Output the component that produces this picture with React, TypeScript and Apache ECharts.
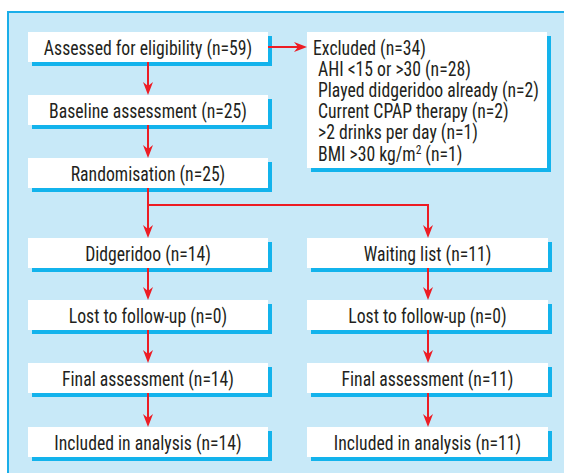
import React, { useEffect, useRef } from "react";
import * as echarts from "echarts";

const mainFlow = ["Assessed for eligibility", "Baseline assessment", "Randomisation"];
const mainCounts = [59, 25, 25];
const armStages = ["Didgeridoo", "Lost to follow-up", "Final assessment", "Included in analysis"];
const armBStages = ["Waiting list", "Lost to follow-up", "Final assessment", "Included in analysis"];
const armACounts = [14, 0, 14, 14];
const armBCounts = [11, 0, 11, 11];
const excludedTotal = 34;
const excludedReasons = [
  "AHI <15 or >30",
  "Played didgeridoo already",
  "Current CPAP therapy",
  ">2 drinks per day",
  "BMI >30 kg/m{sup|2}",
];
const excludedCounts = [28, 2, 2, 1, 1];

const FONT = "'Liberation Sans Narrow', 'Arial Narrow', 'Roboto Condensed', sans-serif";
const RED = "#ed1c24";
const SHADOW = "#13b3ec";
const BG = "#c8e9f8";
const TEXT = "#231f20";
const FS = 20;
const SX = 0.885;

function box(x: number, y: number, w: number, h: number, label: string): any[] {
  return [
    { type: "rect", shape: { x: x + 4, y: y + 4, width: w, height: h }, style: { fill: SHADOW }, z: 1 },
    { type: "rect", shape: { x, y, width: w, height: h }, style: { fill: "#ffffff" }, z: 2 },
    {
      type: "text",
      x: x + w / 2,
      y: y + h / 2 + 1,
      scaleX: SX,
      z: 3,
      style: { text: label, fill: TEXT, font: `${FS}px ${FONT}`, align: "center", verticalAlign: "middle" },
    },
  ];
}

function vArrow(x: number, y1: number, y2: number): any[] {
  return [
    { type: "line", shape: { x1: x, y1, x2: x, y2: y2 - 6 }, style: { stroke: RED, lineWidth: 2 }, z: 4 },
    {
      type: "polygon",
      shape: { points: [[x, y2], [x - 5, y2 - 13], [x, y2 - 9], [x + 5, y2 - 13]] },
      style: { fill: RED },
      z: 4,
    },
  ];
}

function hArrow(x1: number, x2: number, y: number): any[] {
  return [
    { type: "line", shape: { x1, y1: y, x2: x2 - 6, y2: y }, style: { stroke: RED, lineWidth: 2 }, z: 4 },
    {
      type: "polygon",
      shape: { points: [[x2, y], [x2 - 13, y - 5], [x2 - 9, y], [x2 - 13, y + 5]] },
      style: { fill: RED },
      z: 4,
    },
  ];
}

export default function App() {
  const ref = useRef<HTMLDivElement>(null);
  useEffect(() => {
    if (!ref.current) return;
    const chart = echarts.init(ref.current, undefined, { renderer: "svg" });

    const LX = 28, RX = 307, W = 240, H = 30;
    const LC = LX + W / 2, RC = RX + W / 2 + 1;
    const mainTops = [32, 95, 158];
    const armTops = [238, 300, 363, 427];

    const els: any[] = [];
    els.push({ type: "rect", shape: { x: 8, y: 12, width: 600, height: 500 }, style: { fill: BG, stroke: "#1aaee9", lineWidth: 2 }, z: 0 });

    mainFlow.forEach((s, i) => els.push(...box(LX, mainTops[i], W, H, `${s} (n=${mainCounts[i]})`)));
    armStages.forEach((s, i) => els.push(...box(LX, armTops[i], W, H, `${s} (n=${armACounts[i]})`)));
    armBStages.forEach((s, i) => els.push(...box(RX, armTops[i], W + 1, H, `${s} (n=${armBCounts[i]})`)));

    const EX = 307, EY = 32, EW = 240, EH = 136;
    els.push({ type: "rect", shape: { x: EX + 4, y: EY + 4, width: EW, height: EH }, style: { fill: SHADOW }, z: 1 });
    els.push({ type: "rect", shape: { x: EX, y: EY, width: EW, height: EH }, style: { fill: "#ffffff" }, z: 2 });
    els.push({
      type: "text", x: 313, y: 48, scaleX: SX, z: 3,
      style: { text: `Excluded (n=${excludedTotal})`, fill: TEXT, font: `${FS}px ${FONT}`, align: "left", verticalAlign: "middle" },
    });
    excludedReasons.forEach((r, i) => {
      els.push({
        type: "text", x: 318, y: 69 + i * 21.2, scaleX: SX, z: 3,
        style: {
          text: `${r} (n=${excludedCounts[i]})`,
          fill: TEXT,
          font: `${FS}px ${FONT}`,
          align: "left",
          verticalAlign: "middle",
          rich: { sup: { fontSize: 13, fontFamily: FONT, fill: TEXT, padding: [0, 0, 8, 0] } },
        },
      });
    });

    els.push(...vArrow(LC, mainTops[0] + H, mainTops[1]));
    els.push(...vArrow(LC, mainTops[1] + H, mainTops[2]));
    els.push(...vArrow(LC, mainTops[2] + H, armTops[0]));
    els.push({ type: "polyline", shape: { points: [[LC, 205], [RC, 205], [RC, armTops[0] - 6]] }, style: { stroke: RED, lineWidth: 2, fill: "none" }, z: 4 });
    els.push(...vArrow(RC, 210, armTops[0]));
    for (let i = 0; i < 3; i++) {
      els.push(...vArrow(LC, armTops[i] + H, armTops[i + 1]));
      els.push(...vArrow(RC, armTops[i] + H, armTops[i + 1]));
    }
    els.push(...hArrow(LX + W, EX, 47));

    chart.setOption({ animation: false, graphic: { elements: els } });
    return () => chart.dispose();
  }, []);
  return <div ref={ref} style={{ position: "fixed", left: 0, top: 0, width: 564, height: 473, background: "#fff" }} />;
}
